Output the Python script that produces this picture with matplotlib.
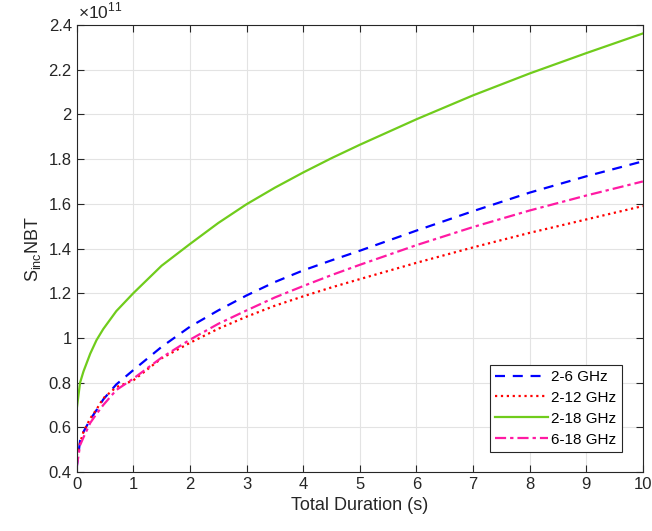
import matplotlib
matplotlib.use("Agg")
import matplotlib.pyplot as plt
from matplotlib.ticker import FuncFormatter

plt.rcParams['font.family'] = ['Liberation Sans', 'DejaVu Sans']
plt.rcParams['mathtext.fontset'] = 'custom'
plt.rcParams['mathtext.rm'] = 'Liberation Sans'

# values, y in units of 1e11
t = [0, 0.06, 0.12, 0.24, 0.35, 0.47, 0.7, 1, 1.5, 2, 2.5, 3, 3.5, 4, 4.5,
     5, 6, 7, 8, 9, 10]
band_2_6 = [0.42, 0.54, 0.58, 0.635, 0.677, 0.725, 0.792, 0.856, 0.96, 1.05, 1.123,
            1.19, 1.25, 1.302, 1.347, 1.39, 1.48, 1.567, 1.65, 1.723, 1.79]
band_2_12 = [0.47, 0.53, 0.58, 0.64, 0.68, 0.73, 0.78, 0.81, 0.909, 0.978, 1.041,
             1.095, 1.144, 1.186, 1.226, 1.263, 1.336, 1.405, 1.47, 1.53, 1.59]
band_2_18 = [0.68, 0.80, 0.85, 0.93, 0.99, 1.04, 1.12, 1.20, 1.323, 1.42, 1.514,
             1.598, 1.672, 1.740, 1.804, 1.864, 1.978, 2.085, 2.183, 2.274, 2.362]
band_6_18 = [0.42, 0.52, 0.555, 0.62, 0.66, 0.70, 0.767, 0.818, 0.912, 0.992, 1.063,
             1.123, 1.181, 1.232, 1.281, 1.327, 1.415, 1.496, 1.57, 1.637, 1.70]

fig = plt.figure(figsize=(6.52, 5.31), dpi=100)
ax = fig.add_axes([0.1176, 0.111, 0.8684, 0.842])

lw = 1.6
ax.plot(t, band_2_6, '--', color='#0000ff', lw=lw, dashes=(4.5, 3.5), label='2-6 GHz')
ax.plot(t, band_2_12, ':', color='#ff0000', lw=lw, label='2-12 GHz')
ax.plot(t, band_2_18, '-', color='#70cc1c', lw=lw, label='2-18 GHz')
ax.plot(t, band_6_18, '-.', color='#ff1aa3', lw=lw, dashes=(5, 1.8, 1.5, 1.8), label='6-18 GHz')

ax.set_xlim(0, 10)
ax.set_ylim(0.4, 2.4)
ax.set_xticks(range(0, 11))
ax.set_yticks([0.4 + 0.2 * i for i in range(11)])
ax.yaxis.set_major_formatter(FuncFormatter(lambda v, p: '%g' % round(v, 2)))
ax.grid(True, color='#e3e3e3', lw=0.8)
ax.set_axisbelow(True)
ax.tick_params(direction='in', top=True, right=True, labelsize=12, colors='#262626',
               length=5, width=0.8)
for s in ax.spines.values():
    s.set_color('#262626')
    s.set_linewidth(0.8)

ax.set_xlabel('Total Duration (s)', fontsize=13, color='#262626', labelpad=4)
ax.set_ylabel(r'S$_{\mathregular{inc}}$NBT', fontsize=13, color='#262626', labelpad=4)
ax.text(0.003, 1.008, r'$\times$10$^{11}$', transform=ax.transAxes, fontsize=12.5,
        color='#262626', ha='left', va='bottom')

leg = ax.legend(loc='lower right', bbox_to_anchor=(0.963, 0.045), borderaxespad=0,
                fontsize=11, handlelength=3.5, handletextpad=0.2, borderpad=0.35,
                labelspacing=0.45, fancybox=False, framealpha=1, edgecolor='#262626')
leg.get_frame().set_linewidth(0.8)

fig.savefig('out.png', dpi=100)
